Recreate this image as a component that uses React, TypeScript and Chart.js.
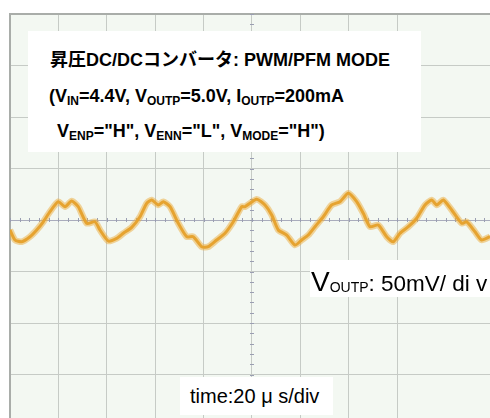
import React, { useEffect, useRef } from "react";
import { Chart, registerables } from "chart.js";

Chart.register(...registerables);

// Oscilloscope trace: time (µs, 20 µs/div) and V_OUTP ripple (mV, 50 mV/div)
const TIME_US = [
  0, 2.07, 4.83, 8.26, 11.03, 13.76, 16.53, 19.96, 22.73, 25.5, 28.22, 31.69, 35.12, 37.19,
  40.62, 44.09, 46.82, 50.29, 53.72, 56.49, 58.55, 61.28, 63.35, 66.12, 69.55, 73.02, 75.74,
  79.21, 81.94, 85.41, 88.84, 92.27, 95.74, 97.11, 101.94, 105.37, 108.14, 110.87, 114.34,
  117.77, 120.54, 123.26, 126.03, 129.46, 132.93, 136.36, 139.79, 143.26, 145.99, 148.76,
  152.19, 155.66, 158.39, 161.16, 164.59, 168.06, 171.49, 174.26, 176.32, 179.05, 182.52,
  186.65, 188.72, 192.15, 194.92, 198.35,
];
const VOUT_MV = [
  -9.7, -19.4, -21.1, -16.2, -9.7, -1.7, 8.1, 17.8, 12.9, 18.4, 12.9, -3.2, -1.7, -9.7,
  -20.4, -17.8, -12.9, -7.1, 3.2, 16.2, 19.4, 14.6, 17.8, 12.9, -3.2, -16.2, -16.2,
  -25.9, -25.9, -19.4, -12.9, -1.7, 12.9, 12.9, 20.1, 14.6, 4.9, -9.7, -14.6,
  -24.3, -19.4, -14.6, -6.5, 3.2, 14.6, 17.8, 25.9, 17.8, 6.5, -6.5,
  -4.9, -16.2, -21.1, -12.9, -6.5, 1.7, 14.6, 19.4, 14.6, 19.4, 9.7,
  -3.2, -1.7, -11.4, -19.4, -16.2,
];

const TIME_DIV_US = 20;
const VOLT_DIV_MV = 50;
const X_MIN = 0;
const X_MAX = 198.35;
const Y_MIN = -192.2;
const Y_MAX = 200;

const TITLE_LINE = "昇圧DC/DCコンバータ: PWM/PFM MODE";
const VOLT_LABEL = ": 50mV/ di v";
const TIME_LABEL = "time:20 μ s/div";

const GRID = "#c6cbc6";
const CENTER = "#a9acbc";

const scopePlugin = {
  id: "scope",
  beforeDraw(chart: any) {
    const { ctx, chartArea } = chart;
    ctx.save();
    ctx.fillStyle = "#f3f8f2";
    ctx.fillRect(chartArea.left, chartArea.top, chartArea.right - chartArea.left, chartArea.bottom - chartArea.top);
    ctx.restore();
  },
  beforeDatasetsDraw(chart: any) {
    const { ctx, scales } = chart;
    const xs = scales.x;
    const ys = scales.y;
    const y0 = ys.getPixelForValue(0);
    const xc = xs.getPixelForValue(100);
    ctx.save();
    ctx.strokeStyle = "#9a9eb2";
    ctx.lineWidth = 1;
    ctx.beginPath();
    for (let t = 0; t <= X_MAX; t += TIME_DIV_US / 5) {
      const px = Math.round(xs.getPixelForValue(t)) + 0.5;
      ctx.moveTo(px, y0 - 2);
      ctx.lineTo(px, y0 + 2);
    }
    for (let v = -150; v <= Y_MAX; v += VOLT_DIV_MV / 5) {
      const py = Math.round(ys.getPixelForValue(v)) + 0.5;
      ctx.moveTo(xc - 2, py);
      ctx.lineTo(xc + 2, py);
    }
    ctx.stroke();
    ctx.restore();
  },
};

const boxBase: React.CSSProperties = {
  position: "absolute",
  background: "#ffffff",
};

const sub = (s: string, size: number): React.ReactNode => (
  <span style={{ fontSize: size, verticalAlign: "-0.25em", lineHeight: 0 }}>{s}</span>
);

export default function App() {
  const canvasRef = useRef<HTMLCanvasElement | null>(null);

  useEffect(() => {
    document.body.style.margin = "0";
    const canvas = canvasRef.current;
    if (!canvas) return;
    const data = TIME_US.map((t, i) => ({ x: t, y: VOUT_MV[i] }));
    const chart = new Chart(canvas, {
      type: "line",
      data: {
        datasets: [
          {
            data,
            borderColor: "rgba(236,172,60,0.5)",
            borderWidth: 6.5,
            pointRadius: 0,
            tension: 0.2,
          },
          {
            data,
            borderColor: "#e09a24",
            borderWidth: 3,
            pointRadius: 0,
            tension: 0.2,
          },
        ],
      },
      options: {
        animation: false,
        responsive: false,
        maintainAspectRatio: false,
        events: [],
        layout: { padding: { left: 10, top: 14, right: 0, bottom: 0 } },
        plugins: { legend: { display: false }, tooltip: { enabled: false } },
        scales: {
          x: {
            type: "linear",
            position: "top",
            min: X_MIN,
            max: X_MAX,
            ticks: { display: false, stepSize: TIME_DIV_US },
            grid: {
              drawTicks: false,
              lineWidth: 1,
              color: (c: any) => {
                const v = c.tick ? c.tick.value : 0;
                if (Math.abs(v / TIME_DIV_US - Math.round(v / TIME_DIV_US)) > 1e-6) return "rgba(0,0,0,0)";
                return GRID;
              },
            },
            border: { display: true, color: "#a9ada9", width: 2 },
          },
          y: {
            type: "linear",
            min: Y_MIN,
            max: Y_MAX,
            ticks: { display: false, stepSize: VOLT_DIV_MV },
            grid: {
              drawTicks: false,
              lineWidth: 1,
              color: (c: any) => {
                const v = c.tick ? c.tick.value : 0;
                if (Math.abs(v / VOLT_DIV_MV - Math.round(v / VOLT_DIV_MV)) > 1e-6) return "rgba(0,0,0,0)";
                if (Math.abs(v) < 1e-6) return CENTER;
                return GRID;
              },
            },
            border: { display: true, color: "#a9ada9", width: 2 },
          },
        },
      },
      plugins: [scopePlugin],
    });
    return () => chart.destroy();
  }, []);

  const font = '"Liberation Sans", Arial, "Noto Sans CJK JP", sans-serif';
  const boldLine: React.CSSProperties = {
    position: "absolute",
    fontFamily: font,
    fontWeight: 700,
    fontSize: 18,
    lineHeight: "22px",
    color: "#000",
    whiteSpace: "nowrap",
  };

  return (
    <div style={{ position: "relative", width: 490, height: 418, overflow: "hidden", background: "#fff" }}>
      <canvas ref={canvasRef} width={490} height={418} style={{ display: "block", width: 490, height: 418 }} />
      <div style={{ ...boxBase, left: 28, top: 31, width: 393, height: 121 }} />
      <div style={{ ...boldLine, left: 50, top: 49 }}>{TITLE_LINE}</div>
      <div style={{ ...boldLine, left: 49, top: 85 }}>
        (V{sub("IN", 12)}=4.4V, V{sub("OUTP", 12)}=5.0V, I{sub("OUTP", 12)}=200mA
      </div>
      <div style={{ ...boldLine, left: 57, top: 120 }}>
        V{sub("ENP", 12)}="H", V{sub("ENN", 12)}="L", V{sub("MODE", 12)}="H")
      </div>
      <div style={{ ...boxBase, left: 310, top: 260, width: 180, height: 37 }} />
      <div
        style={{
          position: "absolute",
          left: 311,
          top: 269,
          fontFamily: font,
          fontSize: 22.5,
          lineHeight: "26px",
          whiteSpace: "nowrap",
          color: "#000",
        }}
      >
        <span style={{ fontSize: 28 }}>V</span>
        <span style={{ fontSize: 14, verticalAlign: "-0.1em" }}>OUTP</span>
        {VOLT_LABEL}
      </div>
      <div style={{ ...boxBase, left: 180, top: 377, width: 153, height: 38 }} />
      <div
        style={{
          position: "absolute",
          left: 190,
          top: 384,
          fontFamily: font,
          fontSize: 20,
          lineHeight: "24px",
          whiteSpace: "nowrap",
          color: "#000",
        }}
      >
        {TIME_LABEL}
      </div>
    </div>
  );
}
